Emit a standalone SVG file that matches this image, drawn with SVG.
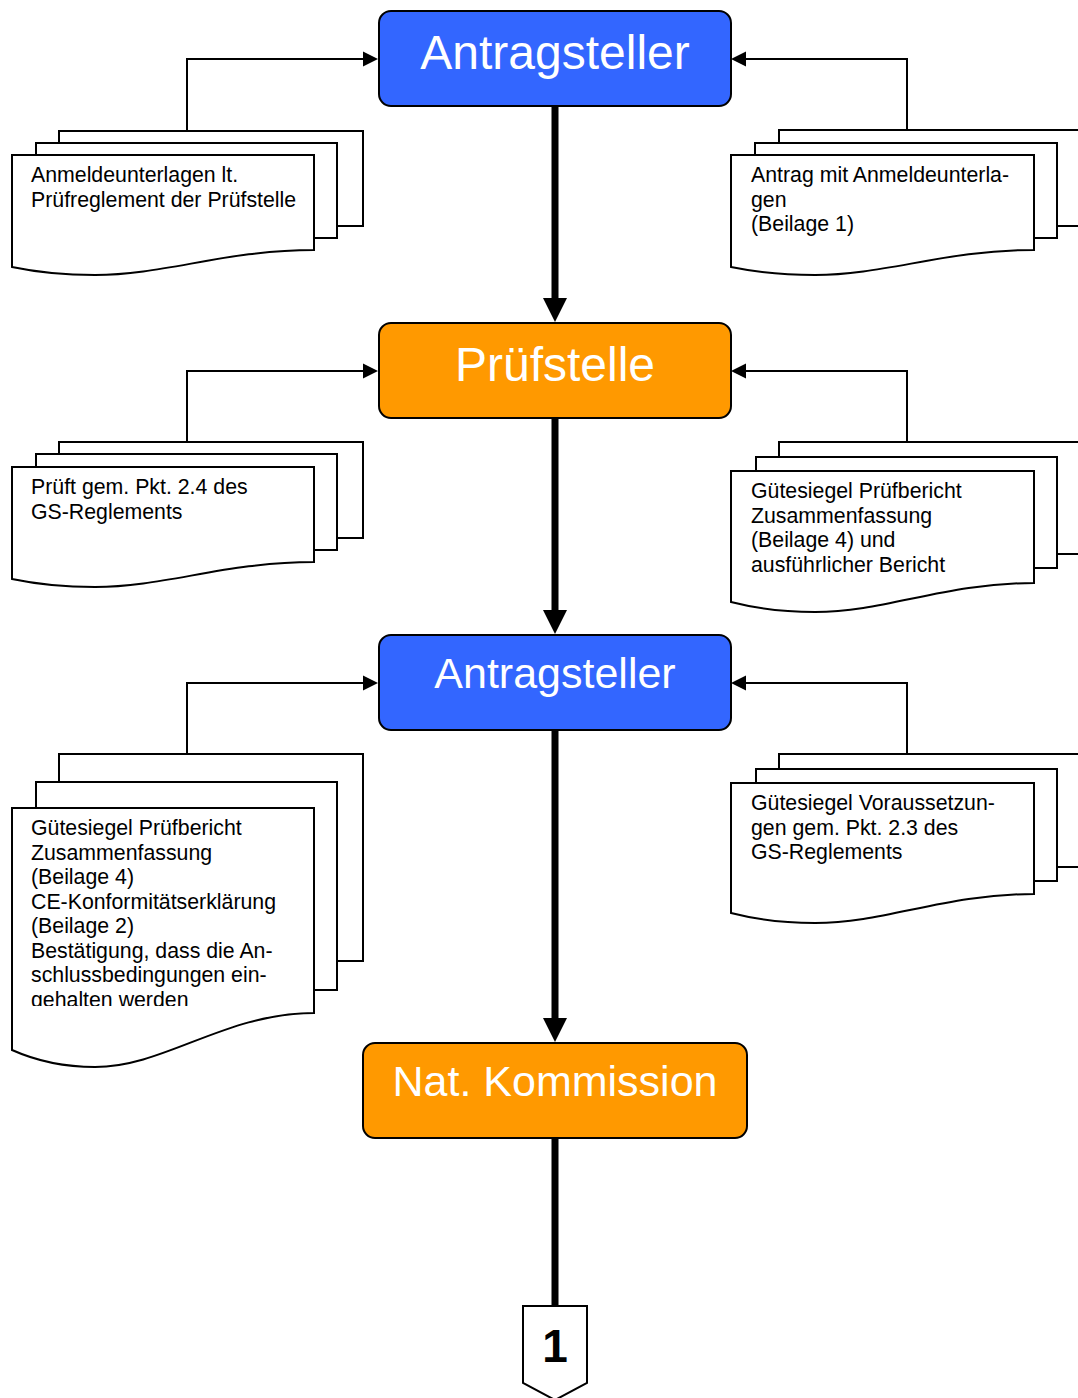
<svg xmlns="http://www.w3.org/2000/svg" width="1078" height="1398" viewBox="0 0 1078 1398">
  <style>
    .box{stroke:#000;stroke-width:2}
    .blue{fill:#3366FF}
    .orange{fill:#FF9900}
    .title{font-family:"Liberation Sans",Arial,sans-serif;fill:#fff;text-anchor:middle}
    .doc{fill:#fff;stroke:#000;stroke-width:2;stroke-linejoin:miter}
    .doctext{font-family:"Liberation Sans",Arial,sans-serif;font-size:21.3px;fill:#000}
    .thin{fill:none;stroke:#000;stroke-width:2}
    .thick{fill:none;stroke:#000;stroke-width:7}
  </style>
  <defs>
    <marker id="arrS" markerUnits="userSpaceOnUse" markerWidth="15" markerHeight="15" refX="0" refY="7.5" orient="auto" overflow="visible">
      <path d="M0,0 L15,7.5 L0,15 Z" fill="#000"/>
    </marker>
    <marker id="arrL" markerUnits="userSpaceOnUse" markerWidth="24" markerHeight="24" refX="0" refY="12" orient="auto" overflow="visible">
      <path d="M0,0 L24,12 L0,24 Z" fill="#000"/>
    </marker>
    <clipPath id="clip3l"><rect x="12" y="808" width="302" height="198"/></clipPath>
  </defs>

  <g id="connectors">
    <path class="thick" d="M555,106 V298" marker-end="url(#arrL)"/>
    <path class="thick" d="M555,418 V610" marker-end="url(#arrL)"/>
    <path class="thick" d="M555,730 V1018" marker-end="url(#arrL)"/>
    <path class="thick" d="M555,1138 V1306"/>
    <path class="thin" d="M187,131 V59 H363" marker-end="url(#arrS)"/>
    <path class="thin" d="M907,130 V59 H746" marker-end="url(#arrS)"/>
    <path class="thin" d="M187,443 V371 H363" marker-end="url(#arrS)"/>
    <path class="thin" d="M907,442 V371 H746" marker-end="url(#arrS)"/>
    <path class="thin" d="M187,754 V683 H363" marker-end="url(#arrS)"/>
    <path class="thin" d="M907,754 V683 H746" marker-end="url(#arrS)"/>
  </g>

  <g id="antragsteller1">
    <rect class="box blue" x="379" y="11" width="352" height="95" rx="12"/>
    <text class="title" x="555" y="69" font-size="48">Antragsteller</text>
  </g>
  <g id="pruefstelle">
    <rect class="box orange" x="379" y="323" width="352" height="95" rx="12"/>
    <text class="title" x="555" y="381" font-size="48">Prüfstelle</text>
  </g>
  <g id="antragsteller2">
    <rect class="box blue" x="379" y="635" width="352" height="95" rx="12"/>
    <text class="title" x="555" y="688" font-size="43">Antragsteller</text>
  </g>
  <g id="kommission">
    <rect class="box orange" x="363" y="1043" width="384" height="95" rx="12"/>
    <text class="title" x="555" y="1096" font-size="43">Nat. Kommission</text>
  </g>
  <g id="offpage1">
    <path d="M523,1306 H587 V1383 L555,1400 L523,1383 Z" fill="#fff" stroke="#000" stroke-width="2"/>
    <text x="555" y="1362" font-family="Liberation Sans,Arial,sans-serif" font-weight="bold" font-size="46" text-anchor="middle">1</text>
  </g>

  <!-- Row 1 left -->
  <g id="doc1l">
    <path class="doc" d="M59,143 V131 H363 V226 H337"/>
    <path class="doc" d="M36,155 V143 H337 V238 H314"/>
    <path class="doc" d="M12,155 H314 V250 C225,250 165,275 95,275 Q50,275 12,267 Z"/>
    <text class="doctext" x="31" y="182">Anmeldeunterlagen lt.</text>
    <text class="doctext" x="31" y="206.5">Prüfreglement der Prüfstelle</text>
  </g>
  <!-- Row 1 right -->
  <g id="doc1r">
    <path class="doc" d="M779,143 V130 H1083 V226 H1057"/>
    <path class="doc" d="M755,155 V143 H1057 V238 H1034"/>
    <path class="doc" d="M731,155 H1034 V250 C945,250 885,275 815,275 Q770,275 731,267 Z"/>
    <text class="doctext" x="751" y="182">Antrag mit Anmeldeunterla-</text>
    <text class="doctext" x="751" y="206.5">gen</text>
    <text class="doctext" x="751" y="231">(Beilage 1)</text>
  </g>
  <!-- Row 2 left -->
  <g id="doc2l">
    <path class="doc" d="M59,454 V442 H363 V538 H337"/>
    <path class="doc" d="M36,467 V454 H337 V550 H314"/>
    <path class="doc" d="M12,467 H314 V562 C225,562 165,587 95,587 Q50,587 12,579 Z"/>
    <text class="doctext" x="31" y="494">Prüft gem. Pkt. 2.4 des</text>
    <text class="doctext" x="31" y="518.5">GS-Reglements</text>
  </g>
  <!-- Row 2 right -->
  <g id="doc2r">
    <path class="doc" d="M779,457 V442 H1083 V554 H1057"/>
    <path class="doc" d="M756,471 V457 H1057 V568 H1034"/>
    <path class="doc" d="M731,471 H1034 V583 C945,583 885,612 815,612 Q770,612 731,602 Z"/>
    <text class="doctext" x="751" y="498">Gütesiegel Prüfbericht</text>
    <text class="doctext" x="751" y="522.5">Zusammenfassung</text>
    <text class="doctext" x="751" y="547">(Beilage 4) und</text>
    <text class="doctext" x="751" y="571.5">ausführlicher Bericht</text>
  </g>
  <!-- Row 3 left -->
  <g id="doc3l">
    <path class="doc" d="M59,782 V754 H363 V961 H337"/>
    <path class="doc" d="M36,808 V782 H337 V990 H314"/>
    <path class="doc" d="M12,808 H314 V1013 C225,1013 165,1067 95,1067 Q50,1067 12,1050 Z"/>
    <g clip-path="url(#clip3l)">
      <text class="doctext" x="31" y="835">Gütesiegel Prüfbericht</text>
      <text class="doctext" x="31" y="859.5">Zusammenfassung</text>
      <text class="doctext" x="31" y="884">(Beilage 4)</text>
      <text class="doctext" x="31" y="908.5">CE-Konformitätserklärung</text>
      <text class="doctext" x="31" y="933">(Beilage 2)</text>
      <text class="doctext" x="31" y="957.5">Bestätigung, dass die An-</text>
      <text class="doctext" x="31" y="982">schlussbedingungen ein-</text>
      <text class="doctext" x="31" y="1006.5">gehalten werden</text>
    </g>
  </g>
  <!-- Row 3 right -->
  <g id="doc3r">
    <path class="doc" d="M779,769 V754 H1083 V867 H1057"/>
    <path class="doc" d="M756,783 V769 H1057 V881 H1034"/>
    <path class="doc" d="M731,783 H1034 V894 C945,894 885,923 815,923 Q770,923 731,913 Z"/>
    <text class="doctext" x="751" y="810">Gütesiegel Voraussetzun-</text>
    <text class="doctext" x="751" y="834.5">gen gem. Pkt. 2.3 des</text>
    <text class="doctext" x="751" y="859">GS-Reglements</text>
  </g>
</svg>
